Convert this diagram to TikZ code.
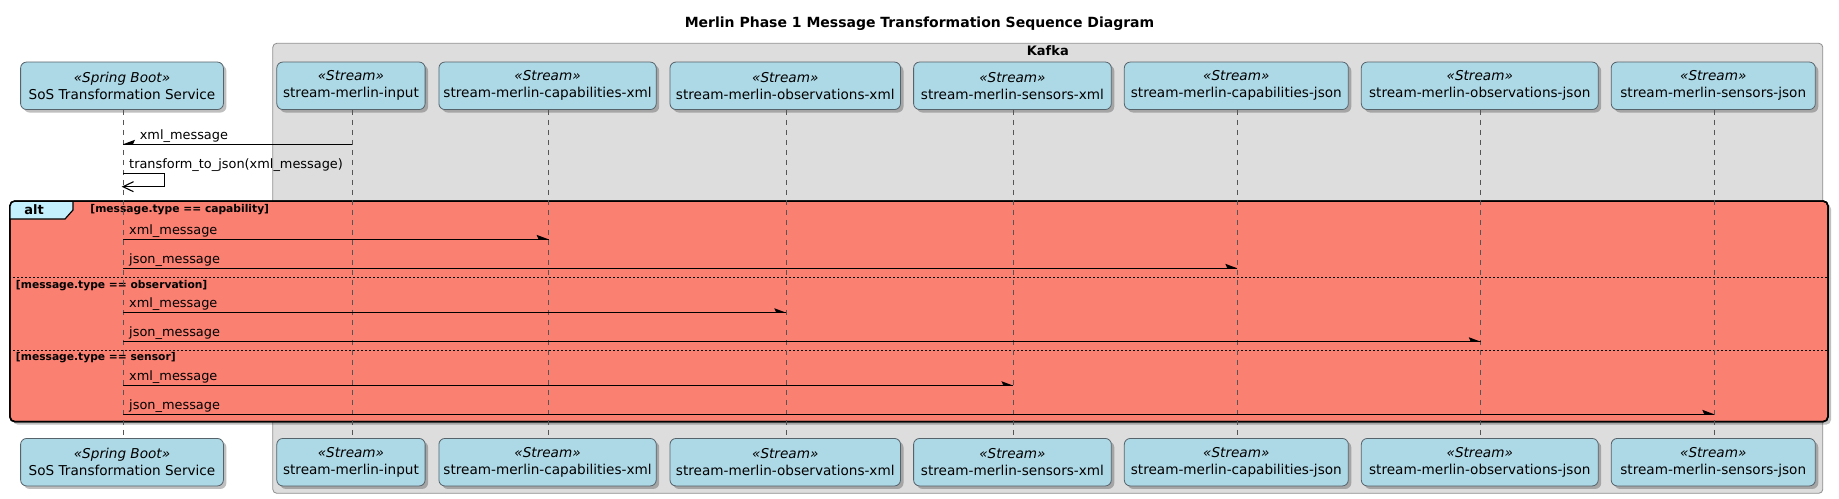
\documentclass[tikz,border=0pt]{standalone}
\usepackage{fontspec}
\setmainfont{DejaVu Sans}
\usetikzlibrary{shadows,calc}
\definecolor{partfill}{HTML}{ADD8E6}
\definecolor{partdraw}{HTML}{56636B}
\definecolor{kafkafill}{HTML}{DDDDDD}
\definecolor{kafkadraw}{HTML}{8F8F8F}
\definecolor{altfill}{HTML}{FA8072}
\definecolor{tabfill}{HTML}{C4EFFD}
\definecolor{lifecol}{HTML}{555555}
\tikzset{
 part/.style={draw=partdraw, fill=partfill, rounded corners=6pt, line width=0.8pt,
   minimum height=47.5pt, inner sep=0pt, align=center, font=\fontsize{13.6}{17}\selectfont,
   drop shadow={shadow xshift=3pt, shadow yshift=-3pt, opacity=0.25, fill=black}},
 lifeline/.style={draw=lifecol, dash pattern=on 5pt off 5pt, line width=0.7pt},
 msgline/.style={line width=0.9pt},
 msglabel/.style={anchor=base west, inner sep=0pt, font=\fontsize{12.9}{15}\selectfont},
 guard/.style={anchor=base west, inner sep=0pt, font=\fontsize{10.7}{13}\selectfont\bfseries},
}
\newcommand\mkpart[5]{%
 \node[part, minimum width={(#3-#2)*1pt}] (#1T) at ({(#2+#3)/2}, 85.8) {\textit{«#4»}\\#5};
 \node[part, minimum width={(#3-#2)*1pt}] (#1B) at ({(#2+#3)/2}, 462.2) {\textit{«#4»}\\#5};
 \coordinate (#1L) at ([xshift=1pt]#1T.south);
 \coordinate (#1E) at ([xshift=1pt]#1B.north);
}
\newcommand\sendmsg[4]{%
 \coordinate (ms) at (#1L |- 0,#3);
 \coordinate (mt) at (#2L |- 0,#3);
 \draw[msgline] (ms) -- (mt);
 \fill (mt) -- ++(-12,-4.5) -- ++(2,4.5) -- cycle;
 \node[msglabel] at ($(ms)+(6,-5)$) {#4};
}
\begin{document}
\begin{tikzpicture}[x=1pt,y=-1pt]
\useasboundingbox (0,0) rectangle (1839,498);
% title
\node[font=\fontsize{14}{16}\selectfont\bfseries, inner sep=0pt] (title) at (919.5,23.3)
  {Merlin Phase 1 Message Transformation Sequence Diagram};
% Kafka box
\node[draw=kafkadraw, fill=kafkafill, rounded corners=4pt, line width=0.8pt,
  minimum width=1550pt, minimum height=450pt, inner sep=0pt] (kafka) at (1047.8,268.3) {};
\node[font=\fontsize{13}{15}\selectfont\bfseries, anchor=base, inner sep=0pt] (kafkalbl)
  at (1047.8,55.4) {Kafka};
% participants
\mkpart{sos}{20.6}{223.4}{Spring Boot}{SoS Transformation Service}
\mkpart{in}{276.8}{425.1}{Stream}{stream-merlin-input}
\mkpart{cx}{438.9}{656.2}{Stream}{stream-merlin-capabilities-xml}
\mkpart{ox}{670}{900.5}{Stream}{stream-merlin-observations-xml}
\mkpart{sx}{913.6}{1111.3}{Stream}{stream-merlin-sensors-xml}
\mkpart{cj}{1124.3}{1348.3}{Stream}{stream-merlin-capabilities-json}
\mkpart{oj}{1361.3}{1598.2}{Stream}{stream-merlin-observations-json}
\mkpart{sj}{1611.2}{1815.3}{Stream}{stream-merlin-sensors-json}
% alt frame fill
\node[draw=black, fill=altfill, rounded corners=5pt, line width=1.5pt,
  minimum width=1818.1pt, minimum height=220.7pt, inner sep=0pt,
  drop shadow={shadow xshift=3pt, shadow yshift=-3pt, opacity=0.25, fill=black}]
  (alt) at (918.95,311.35) {};
\begin{scope}
  \clip[rounded corners=5pt] (9.9,201) rectangle (1828,421.7);
  \fill[tabfill] (9.9,201) -- (73,201) -- (73,210) -- (65,219) -- (9.9,219) -- cycle;
\end{scope}
\draw[line width=1.2pt] (73,201) -- (73,210) -- (65,219) -- (9.9,219);
\draw[line width=1.5pt, rounded corners=5pt] (9.9,201) rectangle (1828,421.7);
\node[font=\fontsize{13}{15}\selectfont\bfseries, anchor=base, inner sep=0pt] (altlbl) at (34,214.3) {alt};
% separators
\draw[dash pattern=on 2pt off 2pt, line width=0.8pt] (alt.west |- 0,277.3) -- (alt.east |- 0,277.3);
\draw[dash pattern=on 2pt off 2pt, line width=0.8pt] (alt.west |- 0,350.3) -- (alt.east |- 0,350.3);
% guards
\node[guard] (g1) at (90.2,212.5) {[message.type == capability]};
\node[guard] (g2) at (15.8,288) {[message.type == observation]};
\node[guard] (g3) at (15.8,360.5) {[message.type == sensor]};
% lifelines
\foreach \p in {sos,in,cx,ox,sx,cj,oj,sj}{
  \draw[lifeline] (\p L) -- (\p E);
}
% message 1: input -> SoS
\coordinate (ms) at (inL |- 0,144.3);
\coordinate (mt) at (sosL |- 0,144.3);
\draw[msgline] (ms) -- (mt);
\fill (mt) -- ++(12,-4.5) -- ++(-2,4.5) -- cycle;
\node[msglabel] (l1) at ($(mt)+(16.6,-5)$) {xml\_message};
% self message
\coordinate (ss) at (sosL |- 0,173.3);
\coordinate (se) at (sosL |- 0,186.7);
\draw[line width=1.1pt] (ss) -- ++(41.5,0) |- (se);
\draw[line width=1.1pt] ($(se)+(10.5,-5)$) -- (se) -- ($(se)+(10.5,5)$);
\node[msglabel] (l2) at ($(ss)+(6,-4.8)$) {transform\_to\_json(xml\_message)};
% alt messages
\sendmsg{sos}{cx}{239.3}{xml\_message}
\sendmsg{sos}{cj}{268.3}{json\_message}
\sendmsg{sos}{ox}{312.7}{xml\_message}
\sendmsg{sos}{oj}{341.7}{json\_message}
\sendmsg{sos}{sx}{385.7}{xml\_message}
\sendmsg{sos}{sj}{414.3}{json\_message}
\end{tikzpicture}
\end{document}
